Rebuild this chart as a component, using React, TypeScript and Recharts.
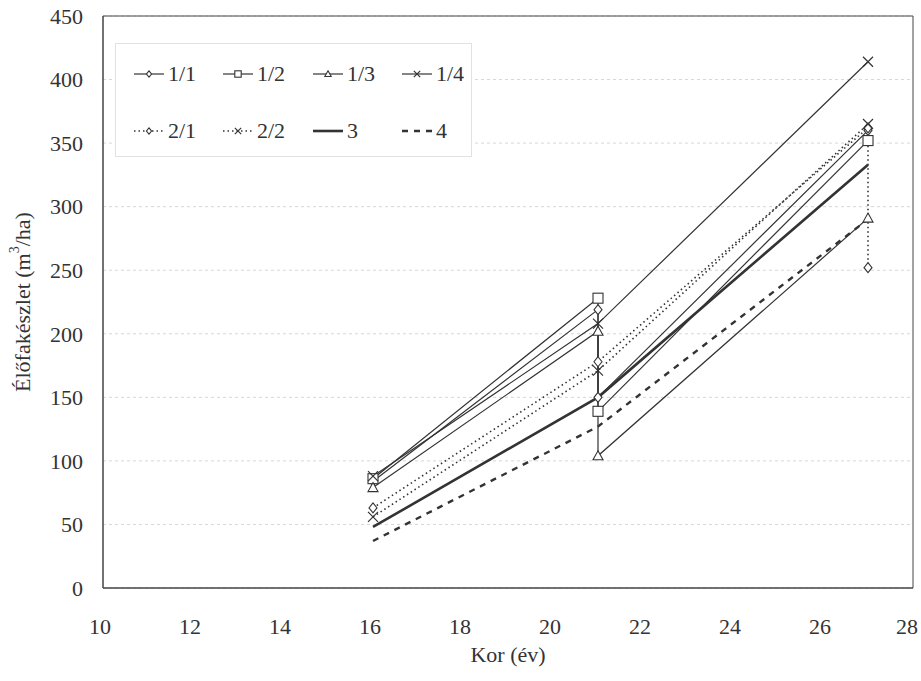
import { LineChart, Line, XAxis, YAxis, CartesianGrid, ReferenceArea, Legend } from "recharts";

const INK = "#333";
const FONT = "Liberation Serif";

const xTicks = [10, 12, 14, 16, 18, 20, 22, 24, 26, 28];
const yTicks = [0, 50, 100, 150, 200, 250, 300, 350, 400, 450];

// age (év) and standing volume (m3/ha); a repeated age = before / after thinning
const age11 = [16, 21, 21, 27];
const vol11 = [84, 219, 150, 360];
const age12 = [16, 21, 21, 27];
const vol12 = [86, 228, 139, 352];
const age13 = [16, 21, 21, 27];
const vol13 = [79, 202, 104, 291];
const age14 = [16, 21, 27];
const vol14 = [88, 208, 414];
const age21 = [16, 21, 27, 27];
const vol21 = [63, 178, 362, 252];
const age22 = [16, 21, 27];
const vol22 = [56, 171, 365];
const age3 = [16, 21, 27];
const vol3 = [48, 150, 333];
const age4 = [16, 21, 27];
const vol4 = [37, 127, 290];

type MarkerKind = "diamond" | "square" | "triangle" | "x" | null;

const zip = (ages: number[], vols: number[]) => ages.map((a, i) => ({ age: a, vol: vols[i] }));

const series = [
  { name: "1/1", data: zip(age11, vol11), marker: "diamond" as MarkerKind, dash: undefined, width: 1.2 },
  { name: "1/2", data: zip(age12, vol12), marker: "square" as MarkerKind, dash: undefined, width: 1.2 },
  { name: "1/3", data: zip(age13, vol13), marker: "triangle" as MarkerKind, dash: undefined, width: 1.2 },
  { name: "1/4", data: zip(age14, vol14), marker: "x" as MarkerKind, dash: undefined, width: 1.2 },
  { name: "2/1", data: zip(age21, vol21), marker: "diamond" as MarkerKind, dash: "1.5 3", width: 1.6 },
  { name: "2/2", data: zip(age22, vol22), marker: "x" as MarkerKind, dash: "1.5 3", width: 1.6 },
  { name: "3", data: zip(age3, vol3), marker: null as MarkerKind, dash: undefined, width: 2.6 },
  { name: "4", data: zip(age4, vol4), marker: null as MarkerKind, dash: "6 6", width: 2.4 },
];

function Marker({ kind, cx, cy, r }: { kind: MarkerKind; cx: number; cy: number; r: number }) {
  const common = { fill: "#fff", stroke: INK, strokeWidth: 1.1 };
  if (kind === "diamond") {
    const w = r * 0.8;
    return <polygon points={`${cx},${cy - r} ${cx + w},${cy} ${cx},${cy + r} ${cx - w},${cy}`} {...common} />;
  }
  if (kind === "square") {
    return <rect x={cx - r} y={cy - r} width={2 * r} height={2 * r} {...common} />;
  }
  if (kind === "triangle") {
    return <polygon points={`${cx},${cy - r} ${cx + r},${cy + r * 0.8} ${cx - r},${cy + r * 0.8}`} {...common} />;
  }
  if (kind === "x") {
    return (
      <path
        d={`M${cx - r},${cy - r}L${cx + r},${cy + r}M${cx + r},${cy - r}L${cx - r},${cy + r}`}
        stroke={INK}
        strokeWidth={1.2}
        fill="none"
      />
    );
  }
  return null;
}

const legendCols = [18, 107, 197, 286];
const legendRows = [30, 87];

function LegendBox() {
  return (
    <div
      style={{
        position: "relative",
        width: 357,
        height: 114,
        background: "#fff",
        border: "1px solid #e2e2e2",
        boxSizing: "border-box",
      }}
    >
      {series.map((s, i) => {
        const left = legendCols[i % 4];
        const top = legendRows[Math.floor(i / 4)];
        return (
          <div key={s.name} style={{ position: "absolute", left, top: top - 12, height: 24, display: "flex", alignItems: "center" }}>
            <svg width={32} height={24}>
              <line x1={0} y1={12} x2={30} y2={12} stroke={INK} strokeWidth={s.width} strokeDasharray={s.dash} />
              {s.marker && <Marker kind={s.marker} cx={15} cy={12} r={3.2} />}
            </svg>
            <span style={{ fontFamily: FONT, fontSize: 22, color: INK, marginLeft: 2, lineHeight: "24px" }}>{s.name}</span>
          </div>
        );
      })}
    </div>
  );
}

export default function App() {
  return (
    <div style={{ position: "absolute", left: 0, top: 0, background: "#fff" }}>
      <LineChart width={921} height={681} margin={{ top: 16, right: 8, left: 43, bottom: 53 }}>
        <CartesianGrid vertical={false} strokeDasharray="3 3" stroke="#d6d6d6" />
        <XAxis
          type="number"
          dataKey="age"
          domain={[10, 28]}
          ticks={xTicks}
          height={40}
          tickSize={0}
          tickMargin={30}
          axisLine={{ stroke: "#444" }}
          tickLine={false}
          tick={{ fill: INK, fontSize: 22, fontFamily: FONT, dx: -3 }}
          label={{
            content: () => (
              <text x={508} y={662} textAnchor="middle" fill={INK} fontSize={22} fontFamily={FONT}>
                Kor (év)
              </text>
            ),
          }}
        />
        <YAxis
          type="number"
          domain={[0, 450]}
          ticks={yTicks}
          width={60}
          tickSize={0}
          tickMargin={20}
          axisLine={{ stroke: "#444" }}
          tickLine={false}
          tick={{ fill: INK, fontSize: 22, fontFamily: FONT }}
          label={{
            content: () => (
              <text
                x={22}
                y={302}
                transform="rotate(-90 22 302)"
                textAnchor="middle"
                dominantBaseline="central"
                fill={INK}
                fontSize={22}
                fontFamily={FONT}
              >
                Élőfakészlet (m
                <tspan dy={-8} fontSize={14}>3</tspan>
                <tspan dy={8}>/ha)</tspan>
              </text>
            ),
          }}
        />
        <ReferenceArea x1={10} x2={28} y1={0} y2={450} fill="none" stroke="#444" strokeWidth={1} />
        {series.map((s) => (
          <Line
            key={s.name}
            name={s.name}
            data={s.data}
            dataKey="vol"
            type="linear"
            stroke={INK}
            strokeWidth={s.width}
            strokeDasharray={s.dash}
            isAnimationActive={false}
            activeDot={false}
            dot={
              s.marker
                ? (p: any) => <Marker key={`${s.name}-${p.index}`} kind={s.marker} cx={p.cx} cy={p.cy} r={5} />
                : false
            }
          />
        ))}
        <Legend
          layout="horizontal"
          verticalAlign="middle"
          align="center"
          wrapperStyle={{ left: 115, top: 43, width: 357, height: 114 }}
          content={() => <LegendBox />}
        />
      </LineChart>
    </div>
  );
}
